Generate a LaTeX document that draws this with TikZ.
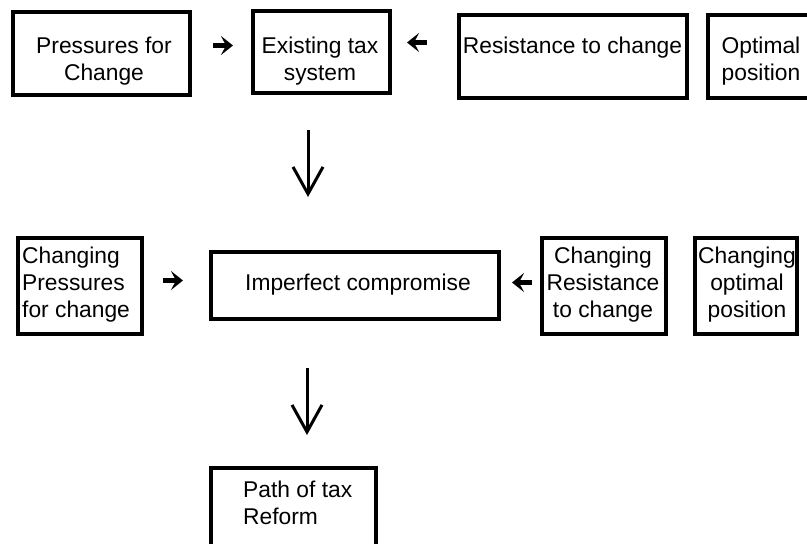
\documentclass[tikz,border=0pt]{standalone}
\usepackage{fontspec}
\setmainfont{Liberation Sans}
\usetikzlibrary{arrows.meta}
\begin{document}
\begin{tikzpicture}[x=1pt,y=-1pt,
  box/.style={draw, line width=4pt, rectangle, inner sep=0pt},
  txt/.style={font=\fontsize{22.8}{27.4}\selectfont, inner sep=0pt},
  small/.style={line width=4.5pt, -{Stealth[length=12pt,width=19pt,inset=5pt]}},
  down/.style={line width=3pt, -{Straight Barb[length=27pt,width=30pt]}}]
\path[use as bounding box, clip] (0,0) rectangle (807,544);
% boxes
\node[box, minimum width=177.5pt, minimum height=83pt] (pfc) at (101.25,53) {};
\node[box, minimum width=137.5pt, minimum height=82pt] (ets) at (321.25,51.5) {};
\node[box, minimum width=228pt, minimum height=83pt] (rtc) at (572.5,56) {};
\node[box, minimum width=122.5pt, minimum height=83pt] (opt) at (768.75,56) {};
\node[box, minimum width=124pt, minimum height=96pt] (cpc) at (79.5,285.5) {};
\node[box, minimum width=288pt, minimum height=67pt] (imp) at (354.5,285) {};
\node[box, minimum width=124pt, minimum height=96pt] (crc) at (603.5,285.5) {};
\node[box, minimum width=102pt, minimum height=96pt] (cop) at (745.5,285.5) {};
\node[box, minimum width=165pt, minimum height=132.5pt] (ptr) at (293,533.75) {};
% texts
\node[txt, align=center] (t1) at (104,61) {Pressures for\\Change};
\node[txt, align=center] (t2) at (320,61) {Existing tax\\system};
\node[txt] (t3) at (572.5,47.4) {Resistance to change};
\node[txt, align=center] (t4) at (761,61.4) {Optimal\\position};
\node[txt, align=left, anchor=west] (t5) at (22,284.6) {Changing\\Pressures\\for change};
\node[txt, anchor=west] (t6) at (245,285) {Imperfect compromise};
\node[txt, align=center] (t7) at (603,284.6) {Changing\\Resistance\\to change};
\node[txt, align=center] (t8) at (747,284.6) {Changing\\optimal\\position};
\node[txt, align=left, anchor=west] (t9) at (243,503) {Path of tax\\Reform};
% small arrows
\coordinate (r1) at (0,45.5);
\coordinate (r2) at (0,42.5);
\coordinate (r3) at (0,280.5);
\coordinate (r4) at (0,282.5);
\draw[small, shorten <=21pt, shorten >=17.5pt] (pfc.east |- r1) -- (ets.west |- r1);
\draw[small, shorten <=29.5pt, shorten >=15pt] (rtc.west |- r2) -- (ets.east |- r2);
\draw[small, shorten <=19.5pt, shorten >=25.5pt] (cpc.east |- r3) -- (imp.west |- r3);
\draw[small, shorten <=7.5pt, shorten >=11.5pt] (crc.west |- r4) -- (imp.east |- r4);
% down arrows
\coordinate (d1) at (308,0);
\coordinate (d2) at (307,0);
\draw[down, shorten <=35.5pt, shorten >=52.5pt] (ets.south -| d1) -- (imp.north -| d1);
\draw[down, shorten <=47.5pt, shorten >=30.5pt] (imp.south -| d2) -- (ptr.north -| d2);
\end{tikzpicture}
\end{document}
